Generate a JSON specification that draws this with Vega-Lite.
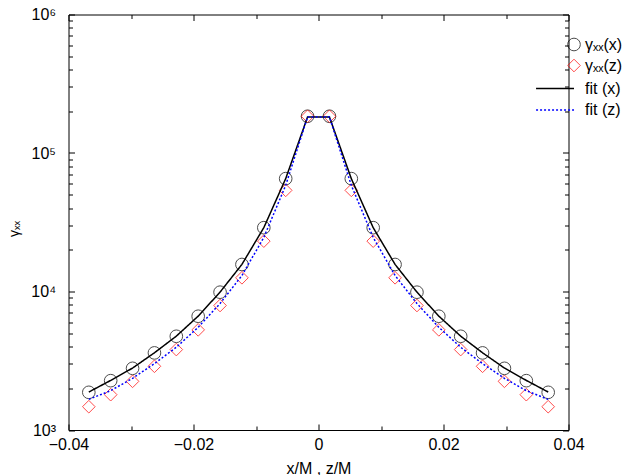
{
  "$schema": "https://vega.github.io/schema/vega-lite/v6.json",
  "autosize": "none",
  "width": 500,
  "height": 415.5,
  "padding": {"left": 68.5, "top": 14.5, "right": 55.5, "bottom": 45},
  "background": "white",
  "config": {
    "font": "Liberation Sans",
    "view": {"stroke": "black", "strokeWidth": 1},
    "axis": {
      "domain": false,
      "grid": false,
      "tickColor": "black",
      "tickWidth": 1,
      "labelColor": "black",
      "labelFont": "Liberation Sans",
      "labelFontSize": 16,
      "titleColor": "black",
      "titleFont": "Liberation Sans",
      "titleFontWeight": "normal"
    },
    "legend": {
      "labelFont": "Liberation Sans",
      "labelFontSize": 16,
      "labelColor": "black",
      "padding": 0,
      "symbolFillColor": "transparent"
    }
  },
  "datasets": {
    "pts": [
      {"x": -0.03675, "gamma": 1871, "series": "γₓₓ(x)"},
      {"x": -0.03325, "gamma": 2271, "series": "γₓₓ(x)"},
      {"x": -0.02975, "gamma": 2788, "series": "γₓₓ(x)"},
      {"x": -0.02625, "gamma": 3603, "series": "γₓₓ(x)"},
      {"x": -0.02275, "gamma": 4750, "series": "γₓₓ(x)"},
      {"x": -0.01925, "gamma": 6627, "series": "γₓₓ(x)"},
      {"x": -0.01575, "gamma": 9885, "series": "γₓₓ(x)"},
      {"x": -0.01225, "gamma": 15670, "series": "γₓₓ(x)"},
      {"x": -0.00875, "gamma": 28890, "series": "γₓₓ(x)"},
      {"x": -0.00525, "gamma": 65310, "series": "γₓₓ(x)"},
      {"x": -0.00175, "gamma": 184200, "series": "γₓₓ(x)"},
      {"x": 0.00175, "gamma": 184200, "series": "γₓₓ(x)"},
      {"x": 0.00525, "gamma": 65310, "series": "γₓₓ(x)"},
      {"x": 0.00875, "gamma": 28890, "series": "γₓₓ(x)"},
      {"x": 0.01225, "gamma": 15670, "series": "γₓₓ(x)"},
      {"x": 0.01575, "gamma": 9885, "series": "γₓₓ(x)"},
      {"x": 0.01925, "gamma": 6627, "series": "γₓₓ(x)"},
      {"x": 0.02275, "gamma": 4750, "series": "γₓₓ(x)"},
      {"x": 0.02625, "gamma": 3603, "series": "γₓₓ(x)"},
      {"x": 0.02975, "gamma": 2788, "series": "γₓₓ(x)"},
      {"x": 0.03325, "gamma": 2271, "series": "γₓₓ(x)"},
      {"x": 0.03675, "gamma": 1871, "series": "γₓₓ(x)"},
      {"x": -0.03675, "gamma": 1473, "series": "γₓₓ(z)"},
      {"x": -0.03325, "gamma": 1799, "series": "γₓₓ(z)"},
      {"x": -0.02975, "gamma": 2246, "series": "γₓₓ(z)"},
      {"x": -0.02625, "gamma": 2884, "series": "γₓₓ(z)"},
      {"x": -0.02275, "gamma": 3808, "series": "γₓₓ(z)"},
      {"x": -0.01925, "gamma": 5285, "series": "γₓₓ(z)"},
      {"x": -0.01575, "gamma": 7923, "series": "γₓₓ(z)"},
      {"x": -0.01225, "gamma": 12560, "series": "γₓₓ(z)"},
      {"x": -0.00875, "gamma": 23100, "series": "γₓₓ(z)"},
      {"x": -0.00525, "gamma": 53740, "series": "γₓₓ(z)"},
      {"x": -0.00175, "gamma": 184200, "series": "γₓₓ(z)"},
      {"x": 0.00175, "gamma": 184200, "series": "γₓₓ(z)"},
      {"x": 0.00525, "gamma": 53740, "series": "γₓₓ(z)"},
      {"x": 0.00875, "gamma": 23100, "series": "γₓₓ(z)"},
      {"x": 0.01225, "gamma": 12560, "series": "γₓₓ(z)"},
      {"x": 0.01575, "gamma": 7923, "series": "γₓₓ(z)"},
      {"x": 0.01925, "gamma": 5285, "series": "γₓₓ(z)"},
      {"x": 0.02275, "gamma": 3808, "series": "γₓₓ(z)"},
      {"x": 0.02625, "gamma": 2884, "series": "γₓₓ(z)"},
      {"x": 0.02975, "gamma": 2246, "series": "γₓₓ(z)"},
      {"x": 0.03325, "gamma": 1799, "series": "γₓₓ(z)"},
      {"x": 0.03675, "gamma": 1473, "series": "γₓₓ(z)"}
    ],
    "fits": [
      {"x": -0.03675, "fit": 1880, "curve": "fit (x)"},
      {"x": -0.03325, "fit": 2280, "curve": "fit (x)"},
      {"x": -0.02975, "fit": 2800, "curve": "fit (x)"},
      {"x": -0.02625, "fit": 3610, "curve": "fit (x)"},
      {"x": -0.02275, "fit": 4760, "curve": "fit (x)"},
      {"x": -0.01925, "fit": 6640, "curve": "fit (x)"},
      {"x": -0.01575, "fit": 9900, "curve": "fit (x)"},
      {"x": -0.01225, "fit": 15700, "curve": "fit (x)"},
      {"x": -0.00875, "fit": 28900, "curve": "fit (x)"},
      {"x": -0.00525, "fit": 65300, "curve": "fit (x)"},
      {"x": -0.00175, "fit": 182000, "curve": "fit (x)"},
      {"x": 0.00175, "fit": 182000, "curve": "fit (x)"},
      {"x": 0.00525, "fit": 65300, "curve": "fit (x)"},
      {"x": 0.00875, "fit": 28900, "curve": "fit (x)"},
      {"x": 0.01225, "fit": 15700, "curve": "fit (x)"},
      {"x": 0.01575, "fit": 9900, "curve": "fit (x)"},
      {"x": 0.01925, "fit": 6640, "curve": "fit (x)"},
      {"x": 0.02275, "fit": 4760, "curve": "fit (x)"},
      {"x": 0.02625, "fit": 3610, "curve": "fit (x)"},
      {"x": 0.02975, "fit": 2800, "curve": "fit (x)"},
      {"x": 0.03325, "fit": 2280, "curve": "fit (x)"},
      {"x": 0.03675, "fit": 1880, "curve": "fit (x)"},
      {"x": -0.03675, "fit": 1664, "curve": "fit (z)"},
      {"x": -0.03325, "fit": 1924, "curve": "fit (z)"},
      {"x": -0.02975, "fit": 2361, "curve": "fit (z)"},
      {"x": -0.02625, "fit": 3015, "curve": "fit (z)"},
      {"x": -0.02275, "fit": 3956, "curve": "fit (z)"},
      {"x": -0.01925, "fit": 5520, "curve": "fit (z)"},
      {"x": -0.01575, "fit": 8190, "curve": "fit (z)"},
      {"x": -0.01225, "fit": 13050, "curve": "fit (z)"},
      {"x": -0.00875, "fit": 24570, "curve": "fit (z)"},
      {"x": -0.00525, "fit": 58400, "curve": "fit (z)"},
      {"x": -0.00175, "fit": 182000, "curve": "fit (z)"},
      {"x": 0.00175, "fit": 182000, "curve": "fit (z)"},
      {"x": 0.00525, "fit": 58400, "curve": "fit (z)"},
      {"x": 0.00875, "fit": 24570, "curve": "fit (z)"},
      {"x": 0.01225, "fit": 13050, "curve": "fit (z)"},
      {"x": 0.01575, "fit": 8190, "curve": "fit (z)"},
      {"x": 0.01925, "fit": 5520, "curve": "fit (z)"},
      {"x": 0.02275, "fit": 3956, "curve": "fit (z)"},
      {"x": 0.02625, "fit": 3015, "curve": "fit (z)"},
      {"x": 0.02975, "fit": 2361, "curve": "fit (z)"},
      {"x": 0.03325, "fit": 1924, "curve": "fit (z)"},
      {"x": 0.03675, "fit": 1664, "curve": "fit (z)"}
    ]
  },
  "layer": [
    {
      "data": {"name": "pts"},
      "mark": {"type": "point", "filled": false, "strokeWidth": 1, "size": 160},
      "encoding": {
        "x": {
          "field": "x",
          "type": "quantitative",
          "scale": {"domain": [-0.04, 0.04], "nice": false, "zero": false},
          "axis": {
            "orient": "bottom",
            "title": "x/M , z/M",
            "titleFontSize": 16,
            "titlePadding": 8,
            "values": [-0.04, -0.03, -0.02, -0.01, 0, 0.01, 0.02, 0.03, 0.04],
            "labelExpr": "abs(round(datum.value * 100)) % 2 == 0 ? (datum.value == 0 ? '0' : format(datum.value, '.2f')) : ''",
            "tickSize": {"condition": {"test": "abs(round(datum.value * 100)) % 2 == 0", "value": -6}, "value": -4},
            "labelPadding": 12,
            "labelFlush": false
          }
        },
        "y": {
          "field": "gamma",
          "type": "quantitative",
          "scale": {"type": "log", "domain": [1000, 1000000], "nice": false},
          "axis": {
            "orient": "left",
            "title": "γₓₓ",
            "titleFontSize": 14,
            "titlePadding": 9,
            "titleY": 214,
            "values": [1000, 2000, 3000, 4000, 5000, 6000, 7000, 8000, 9000, 10000, 20000, 30000, 40000, 50000, 60000, 70000, 80000, 90000, 100000, 200000, 300000, 400000, 500000, 600000, 700000, 800000, 900000, 1000000],
            "labelExpr": "datum.value == 1000 ? '10³' : datum.value == 10000 ? '10⁴' : datum.value == 100000 ? '10⁵' : datum.value == 1000000 ? '10⁶' : ''",
            "tickSize": {"condition": {"test": "datum.value == 1000 || datum.value == 10000 || datum.value == 100000 || datum.value == 1000000", "value": -6}, "value": -4},
            "labelPadding": 19,
            "labelFlush": false
          }
        },
        "shape": {
          "field": "series",
          "type": "nominal",
          "scale": {"domain": ["γₓₓ(x)", "γₓₓ(z)"], "range": ["circle", "diamond"]},
          "legend": {"orient": "none", "legendX": 497.5, "legendY": 22, "title": null, "symbolSize": 160, "symbolStrokeWidth": 1, "rowPadding": 3, "labelOffset": 3}
        },
        "color": {
          "field": "series",
          "type": "nominal",
          "scale": {"domain": ["γₓₓ(x)", "γₓₓ(z)"], "range": ["black", "#ff0000"]},
          "legend": {"orient": "none", "legendX": 497.5, "legendY": 22, "title": null, "symbolSize": 160, "symbolStrokeWidth": 1, "rowPadding": 3, "labelOffset": 3}
        }
      }
    },
    {
      "data": {"name": "fits"},
      "mark": {"type": "line", "strokeWidth": 1.5},
      "encoding": {
        "x": {
          "field": "x",
          "type": "quantitative",
          "axis": {
            "orient": "top",
            "title": null,
            "labels": false,
            "values": [-0.04, -0.03, -0.02, -0.01, 0, 0.01, 0.02, 0.03, 0.04],
            "tickSize": {"condition": {"test": "abs(round(datum.value * 100)) % 2 == 0", "value": -6}, "value": -4}
          }
        },
        "y": {
          "field": "fit",
          "type": "quantitative",
          "axis": {
            "orient": "right",
            "title": null,
            "labels": false,
            "values": [1000, 2000, 3000, 4000, 5000, 6000, 7000, 8000, 9000, 10000, 20000, 30000, 40000, 50000, 60000, 70000, 80000, 90000, 100000, 200000, 300000, 400000, 500000, 600000, 700000, 800000, 900000, 1000000],
            "tickSize": {"condition": {"test": "datum.value == 1000 || datum.value == 10000 || datum.value == 100000 || datum.value == 1000000", "value": -6}, "value": -4}
          }
        },
        "stroke": {
          "field": "curve",
          "type": "nominal",
          "scale": {"domain": ["fit (x)", "fit (z)"], "range": ["black", "#0000ff"]},
          "legend": {"orient": "none", "legendX": 497.5, "legendY": 66, "title": null, "symbolType": "M-6,0H0", "symbolSize": 160, "symbolStrokeWidth": 1.5, "rowPadding": 5.5, "labelOffset": 3}
        },
        "strokeDash": {
          "field": "curve",
          "type": "nominal",
          "scale": {"domain": ["fit (x)", "fit (z)"], "range": [[1, 0], [2, 2]]},
          "legend": {"orient": "none", "legendX": 497.5, "legendY": 66, "title": null, "symbolType": "M-6,0H0", "symbolSize": 160, "symbolStrokeWidth": 1.5, "rowPadding": 5.5, "labelOffset": 3}
        }
      }
    }
  ],
  "resolve": {"axis": {"x": "independent", "y": "independent"}}
}
